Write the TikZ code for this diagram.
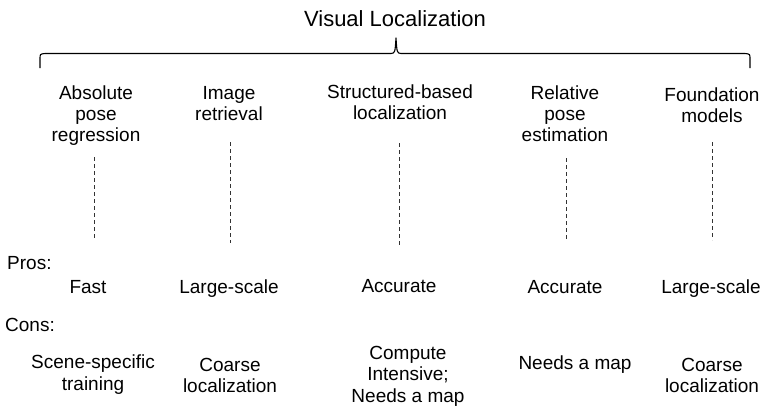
\documentclass[tikz,border=0pt]{standalone}
\usepackage{fontspec}
\setmainfont{Liberation Sans}
\usepackage{tikz}
\usetikzlibrary{positioning}

\begin{document}
\begin{tikzpicture}[x=1pt,y=-1pt,
  head/.style={anchor=north,inner sep=0pt,align=center,font=\fontsize{19}{21}\selectfont},
  pro/.style={anchor=base,inner sep=0pt,font=\fontsize{19}{21}\selectfont},
  con/.style={anchor=north,inner sep=0pt,align=center,font=\fontsize{19}{21.5}\selectfont},
  side/.style={anchor=base west,inner sep=0pt,font=\fontsize{19}{21}\selectfont},
  vline/.style={black!80,line width=1pt,dash pattern=on 4pt off 3pt}]
  \useasboundingbox (0,0) rectangle (764,413);

  \node[anchor=base,inner sep=0pt,font=\fontsize{22}{26}\selectfont] (title) at (395,26) {Visual Localization};
  % the brace
  \coordinate (tip) at (396,38);
  \draw[line width=1.1pt,line join=round] (40,68) -- (40,59) .. controls (40,54) .. (45,53.5) -- (391,53.5)
    .. controls (395,53) .. (tip) .. controls (397,53) .. (401,53.5) -- (745,53.5)
    .. controls (750,54) .. (750,59) -- (750,68);

  % methods
  \node[head] (apr) at (96,86)  {Absolute\\pose\\regression};
  \node[head] (ir)  at (229,86) {Image\\retrieval};
  \node[head] (sbl) at (400,85) {Structured-based\\localization};
  \node[head] (rpe) at (565,86) {Relative\\pose\\estimation};
  \node[head] (fm)  at (712,88) {Foundation\\models};

  \coordinate (d1a) at (94,157);  \coordinate (d1b) at (94,238);
  \coordinate (d2a) at (230,142); \coordinate (d2b) at (230,243);
  \coordinate (d3a) at (399,143); \coordinate (d3b) at (399,245);
  \coordinate (d4a) at (566,158); \coordinate (d4b) at (566,240);
  \coordinate (d5a) at (712,142); \coordinate (d5b) at (712,240);
  \draw[vline] (d1a) -- (d1b);
  \draw[vline] (d2a) -- (d2b);
  \draw[vline] (d3a) -- (d3b);
  \draw[vline] (d4a) -- (d4b);
  \draw[vline] (d5a) -- (d5b);

  % pros
  \node[side] (pros) at (7,269) {Pros:};
  \node[pro] (p1) at (88,293)  {Fast};
  \node[pro] (p2) at (229,293) {Large-scale};
  \node[pro] (p3) at (399,292) {Accurate};
  \node[pro] (p4) at (565,293) {Accurate};
  \node[pro] (p5) at (711,293) {Large-scale};

  % cons
  \node[side] (cons) at (5,331) {Cons:};
  \node[con] (c1) at (93,355)  {Scene-specific\\training};
  \node[con] (c2) at (230,358) {Coarse\\localization};
  \node[con] (c3) at (408,346) {Compute\\Intensive;\\Needs a map};
  \node[con] (c4) at (575,356) {Needs a map};
  \node[con] (c5) at (712,358) {Coarse\\localization};
\end{tikzpicture}
\end{document}
